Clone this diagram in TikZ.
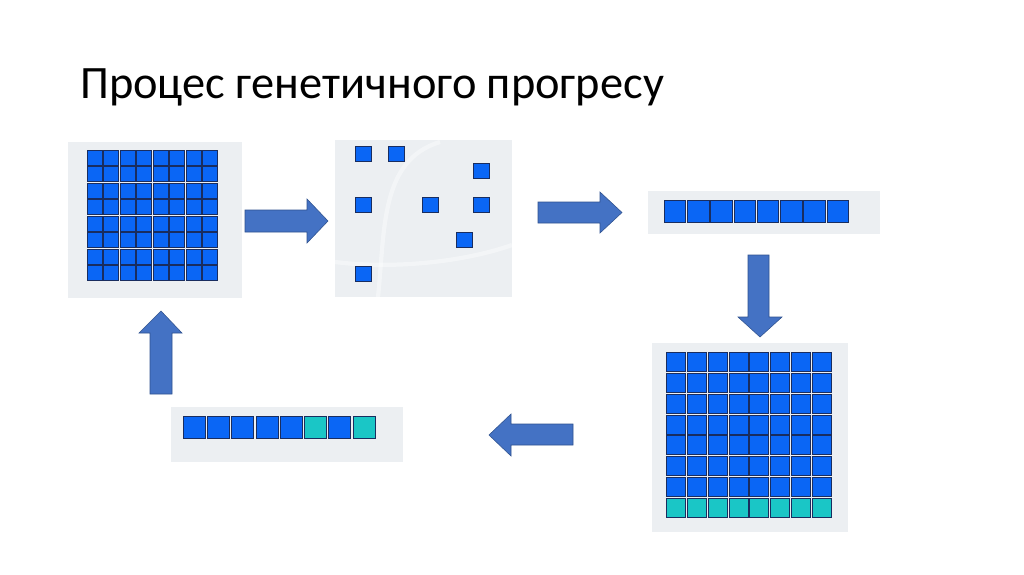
\documentclass[tikz,border=0pt]{standalone}
\usepackage{fontspec}
\setmainfont{Carlito}
\usetikzlibrary{positioning}

\definecolor{panelgray}{RGB}{236,239,242}
\definecolor{cellblue}{RGB}{10,102,245}
\definecolor{cellcyan}{RGB}{26,198,198}
\definecolor{celledge}{RGB}{25,45,95}
\definecolor{arrowblue}{RGB}{68,114,196}
\definecolor{arrowedge}{RGB}{47,82,143}

\tikzset{
  panel/.style={fill=panelgray},
  cell/.style={fill=cellblue, draw=celledge, line width=0.3pt},
  cyancell/.style={cell, fill=cellcyan},
  blockarrow/.style={fill=arrowblue, draw=arrowedge, line width=0.4pt, line join=miter},
  helix/.style={draw=white, line width=3pt, opacity=0.4}
}

\begin{document}
\begin{tikzpicture}[x=0.025cm, y=-0.025cm]

\useasboundingbox[fill=white] (0,0) rectangle (1024,574);

\node[anchor=base west, inner sep=0pt, font=\fontsize{33}{40}\selectfont] (title) at (80,98) {Процес генетичного прогресу};

% Panels
\fill[panel] (68,142) rectangle (242,298);
\fill[panel] (335,140) rectangle (512,297);
\fill[panel] (648,191) rectangle (880,234);
\fill[panel] (652,343) rectangle (848,532);
\fill[panel] (171,407) rectangle (403,462);

% faint helix in the second panel
\draw[helix] (378,297) .. controls (385,230) and (380,160) .. (440,142);
\draw[helix] (335,262) .. controls (400,270) and (470,260) .. (512,245);

% Population grid
\foreach \i in {0,...,7}
  \foreach \j in {0,...,7}
    \draw[cell] ({87+16.5*\i},{150+16.5*\j}) rectangle +(15,15);

% Selected individuals
\foreach \cx/\cy in {363/153.5, 396/153.5, 481.5/170.5, 363/204.5, 430.5/204.5, 481.5/204.5, 464.5/239.5, 363/273.5}
  \draw[cell] (\cx-8,\cy-7.5) rectangle (\cx+8,\cy+7.5);

% Parent row
\foreach \i in {0,...,7}
  \draw[cell] ({664+23.25*\i},200) rectangle +(21.5,22);

% Offspring grid
\foreach \i in {0,...,7}
  \foreach \j in {0,...,6}
    \draw[cell] ({666+20.9*\i},{352+20.9*\j}) rectangle +(19,19);
\foreach \i in {0,...,7}
  \draw[cyancell] ({666+20.9*\i},{352+20.9*7}) rectangle +(19,19);

% Improved row
\foreach \i in {0,...,4}
  \draw[cell] ({183+24.25*\i},416) rectangle +(22,22);
\draw[cyancell] ({183+24.25*5},416) rectangle +(22,22);
\draw[cell] ({183+24.25*6},416) rectangle +(22,22);
\draw[cyancell] ({183+24.25*7},416) rectangle +(22,22);

% Block arrows
\draw[blockarrow] (245,210) -- (307,210) -- (307,199) -- (328,221) -- (307,243) -- (307,232) -- (245,232) -- cycle;
\draw[blockarrow] (538,202) -- (600,202) -- (600,192) -- (622,212.5) -- (600,233) -- (600,223) -- (538,223) -- cycle;
\draw[blockarrow] (748,255) -- (769,255) -- (769,317) -- (782,317) -- (760,337) -- (738,317) -- (748,317) -- cycle;
\draw[blockarrow] (573,424) -- (511,424) -- (511,414) -- (489,435) -- (511,456) -- (511,445) -- (573,445) -- cycle;
\draw[blockarrow] (150,394) -- (150,333) -- (139,333) -- (161,311) -- (182,333) -- (172,333) -- (172,394) -- cycle;

\end{tikzpicture}
\end{document}
